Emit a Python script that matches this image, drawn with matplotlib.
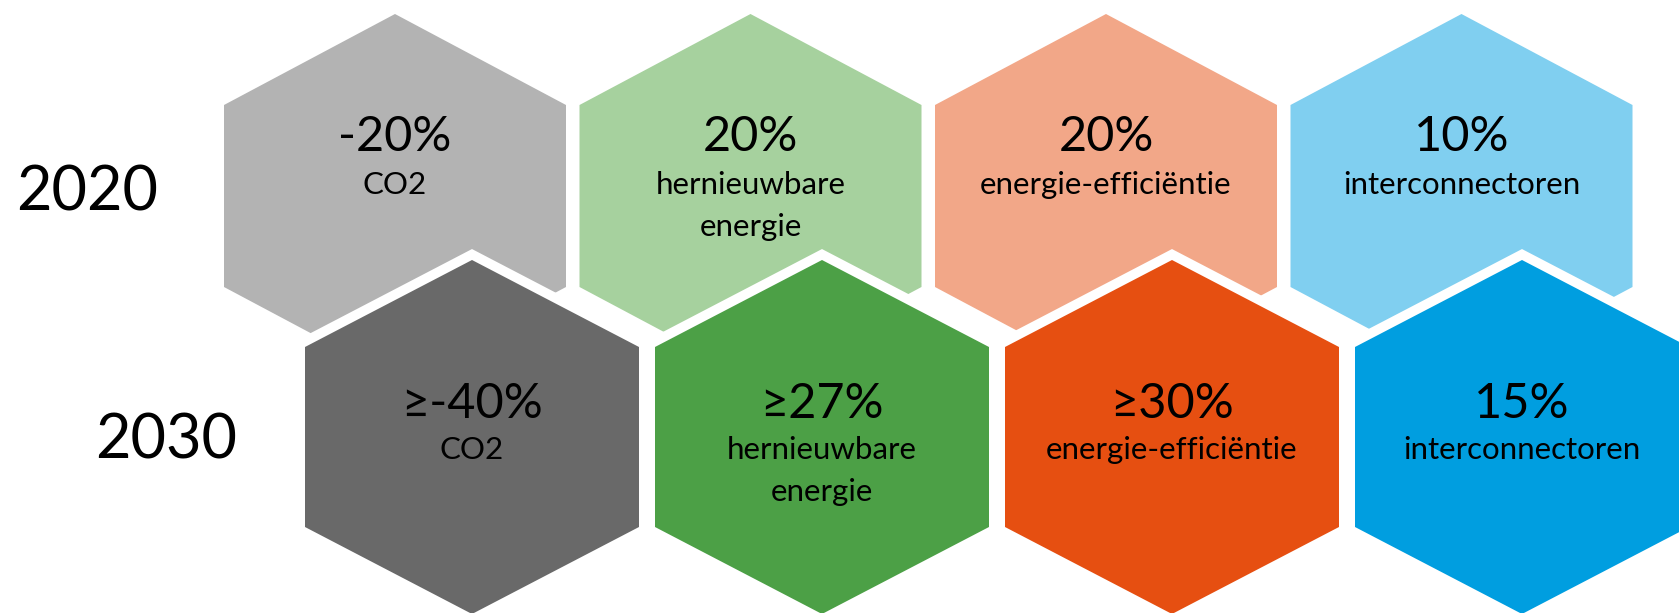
import numpy as np
import matplotlib.pyplot as plt
from matplotlib.patches import Polygon

plt.rcParams['font.family'] = ['Lato', 'DejaVu Sans']

years = ['2020', '2030']
domains = [['CO2'], ['hernieuwbare', 'energie'], ['energie-efficiëntie'], ['interconnectoren']]
targets_2020 = ['-20%', '20%', '20%', '10%']
targets_2030 = ['≥-40%', '≥27%', '≥30%', '15%']
colors_2020 = ['#b3b3b3', '#a6d19e', '#f2a788', '#80cff0']
colors_2030 = ['#696969', '#4ca046', '#e64f11', '#009ee0']

W, H = 1679, 613
fig = plt.figure(figsize=(W / 100, H / 100), dpi=100)
ax = fig.add_axes([0, 0, 1, 1])
ax.set_xlim(0, W)
ax.set_ylim(H, 0)
ax.axis('off')


def hexagon(cx, cy, hw, tip, shoulder):
    return np.array([
        [cx, cy - tip], [cx + hw, cy - shoulder], [cx + hw, cy + shoulder],
        [cx, cy + tip], [cx - hw, cy + shoulder], [cx - hw, cy - shoulder],
    ])


# row layout: first centre x, spacing, centre y, half width, tip, shoulder,
# y offset of the number, y offset of the first label line
rows = [
    (395, 355.5, 196, 171, 182, 91, -59, -11),
    (472, 350.0, 437, 167, 177, 90, -33, 13),
]
targets = [targets_2020, targets_2030]
colors = [colors_2020, colors_2030]
year_pos = [(87, 193), (166, 441)]
line_gap = 42

for r, (x0, dx, cy, hw, tip, sh, dnum, dlab) in enumerate(rows):
    for i in range(len(domains)):
        cx = x0 + dx * i
        pts = hexagon(cx, cy, hw, tip, sh)
        z = 2 + 2 * r
        if r == 1:
            # white outline cutting into the row above
            ax.add_patch(Polygon(pts, closed=True, facecolor='white', edgecolor='white',
                                 linewidth=14, joinstyle='miter', zorder=z))
        ax.add_patch(Polygon(pts, closed=True, facecolor=colors[r][i], edgecolor='none',
                             zorder=z + 1))
        ax.text(cx, cy + dnum, targets[r][i], ha='center', va='center',
                fontsize=35, color='black', zorder=10)
        for k, line in enumerate(domains[i]):
            ax.text(cx, cy + dlab + k * line_gap, line, ha='center', va='center',
                    fontsize=22.5, color='black', zorder=10)
    ax.text(year_pos[r][0], year_pos[r][1], years[r], ha='center', va='center',
            fontsize=44, color='black')

fig.savefig('out.png', dpi=100)
